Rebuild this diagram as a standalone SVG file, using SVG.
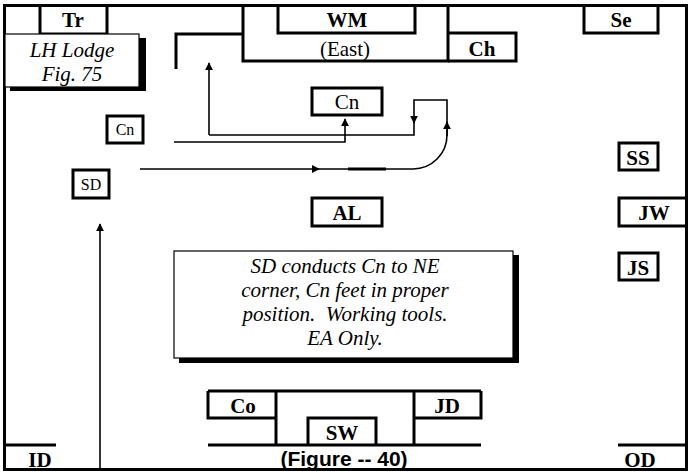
<svg xmlns="http://www.w3.org/2000/svg" width="688" height="472" viewBox="0 0 688 472">
<style>
.b{fill:#fff;stroke:#000;stroke-width:3}
.l{fill:none;stroke:#000;stroke-width:3}
.c{fill:none;stroke:#000;stroke-width:1.6}
.t{font-family:'Liberation Serif','Times New Roman',serif;font-size:21px;text-anchor:middle;fill:#000}
.bd{font-weight:bold}
.it{font-style:italic}
.sm{font-size:16px}
</style>
<defs>
<marker id="ahs" viewBox="0 0 10 10" refX="9" refY="5" markerWidth="8" markerHeight="10" orient="auto" markerUnits="userSpaceOnUse">
<path d="M0,0 L10,5 L0,10 z" fill="#000"/>
</marker>
</defs>
<rect x="0" y="0" width="688" height="472" fill="#fff"/>
<rect x="4.5" y="5.5" width="682" height="464" class="l"/>

<g id="connectors">
<path d="M209,135 V63" class="c" marker-end="url(#ahs)"/>
<path d="M447,136 V100 H414 V123" class="c" marker-end="url(#ahs)"/>
<path d="M414,122 V135 H209" class="c"/>
<path d="M174,142 H345 V119" class="c" marker-end="url(#ahs)"/>
<path d="M140,169 H319" class="c" marker-end="url(#ahs)"/>
<path d="M318,169 H413 A34,34 0 0 0 447,135 V122" class="c" marker-end="url(#ahs)"/>
<path d="M348,169 H386" stroke="#000" stroke-width="3"/>
<path d="M100,468 V224" class="c" marker-end="url(#ahs)"/>
</g>

<g font-family="Liberation Serif, Times New Roman, serif">
<g id="Tr"><path d="M40,6 V34 H107 V6" class="l"/><text x="73" y="27" class="t bd">Tr</text></g>
<g id="LHLodge">
<rect x="10" y="38" width="136" height="53" fill="#000"/>
<rect x="5" y="34" width="134" height="53" fill="#fff" stroke="#000" stroke-width="1.2"/>
<text x="72" y="57" class="t it">LH Lodge</text>
<text x="72" y="81" class="t it">Fig. 75</text>
</g>
<g id="bracket"><path d="M176,69 V34 H243" class="l"/></g>
<g id="WM">
<path d="M243,6 V61 H448 V6" class="l"/>
<path d="M278,6 V33 H415 V6" class="l"/>
<text x="347" y="27" class="t bd">WM</text>
<text x="345" y="56" class="t">(East)</text>
</g>
<g id="Ch"><path d="M448,33 H516 V61 H448" class="l"/><text x="482" y="56" class="t bd">Ch</text></g>
<g id="Se"><path d="M584,6 V33 H658 V6" class="l"/><text x="621" y="27" class="t bd">Se</text></g>
<g id="Cn"><rect x="312" y="88" width="70" height="27" class="b"/><text x="347" y="109" class="t">Cn</text></g>
<g id="Cn2"><rect x="107" y="116" width="36" height="27" class="b"/><text x="125" y="135" class="t sm">Cn</text></g>
<g id="SD"><rect x="73" y="170" width="36" height="28" class="b"/><text x="91" y="190" class="t sm">SD</text></g>
<g id="AL"><rect x="312" y="198" width="70" height="28" class="b"/><text x="347" y="220" class="t bd">AL</text></g>
<g id="SS"><rect x="619" y="143" width="39" height="27" class="b"/><text x="638" y="165" class="t bd">SS</text></g>
<g id="JW"><path d="M686,198 H619 V226 H686" class="l"/><text x="654" y="220" class="t bd">JW</text></g>
<g id="JS"><rect x="619" y="253" width="39" height="27" class="b"/><text x="638" y="275" class="t bd">JS</text></g>
<g id="note">
<rect x="179" y="255" width="340" height="108" fill="#000"/>
<rect x="174" y="251" width="339" height="107" fill="#fff" stroke="#000" stroke-width="1.2"/>
<text x="345" y="273" class="t it">SD conducts Cn to NE</text>
<text x="345" y="297" class="t it">corner, Cn feet in proper</text>
<text x="345" y="321" class="t it" style="white-space:pre">position.  Working tools.</text>
<text x="345" y="345" class="t it">EA Only.</text>
</g>
<g id="South">
<path d="M208,445 H481" class="l"/>
<path d="M208,391 H481" class="l"/>
<path d="M208,391 V418 H276" class="l"/>
<path d="M276,391 V445" class="l"/>
<path d="M414,391 V445" class="l"/>
<path d="M481,391 V418 H414" class="l"/>
<path d="M308,445 V418 H376 V445" class="l"/>
<text x="243" y="413" class="t bd">Co</text>
<text x="447" y="413" class="t bd">JD</text>
<text x="342" y="440" class="t bd">SW</text>
</g>
<g id="ID"><path d="M4,445 H56" class="l"/><text x="40" y="467" class="t bd">ID</text></g>
<g id="OD"><path d="M618,445 H686" class="l"/><text x="640" y="467" class="t bd">OD</text></g>
</g>
<text x="344" y="466" font-family="Liberation Sans, Arial, sans-serif" font-size="21" font-weight="bold" text-anchor="middle">(Figure -- 40)</text>
</svg>
